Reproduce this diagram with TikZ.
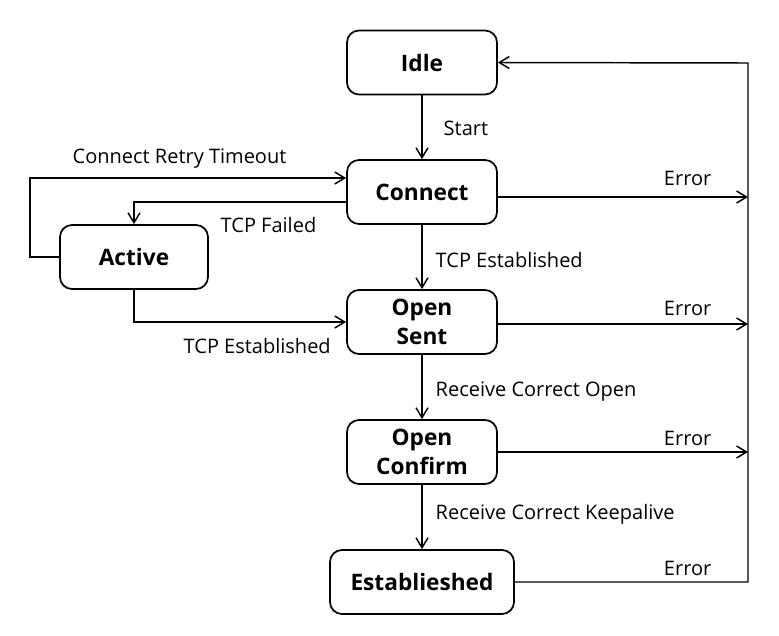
\documentclass[tikz,border=0pt]{standalone}
\usepackage{fontspec}
\setmainfont{Open Sans}
\usetikzlibrary{arrows.meta}

\begin{document}
\begin{tikzpicture}[x=0.75pt,y=-0.75pt,>={Straight Barb[length=7.5pt,width=9pt]},
  line width=1.1pt,
  state/.style={draw,line width=1.3pt,rounded corners=9pt,minimum width=112.5pt,
    minimum height=48pt,inner sep=0pt,align=center,font=\fontsize{17}{21.5}\selectfont\bfseries},
  lbl/.style={font=\fontsize{15}{17}\selectfont,inner sep=0pt}]
  \useasboundingbox (0,0) rectangle (779,636);
  \node[state] (idle) at (422,62.5) {Idle};
  \node[state] (con)  at (422,192)  {Connect};
  \node[state,minimum width=111pt] (act) at (134,257) {Active};
  \node[state] (osent) at (422,322) {Open\\Sent};
  \node[state] (oconf) at (422,452) {Open\\Confirm};
  \node[state,minimum width=138pt] (est) at (422,582) {Establieshed};
  % points on the error rail
  \coordinate (r0) at (748,63);
  \coordinate (r1) at (748,197);
  \coordinate (r2) at (748,324);
  \coordinate (r3) at (748,452);
  \coordinate (lp) at (30,178);
  \coordinate (tf) at (134,202);
  \draw[->] (idle) -- (con);
  \draw[->] (con) -- (osent);
  \draw[->] (osent) -- (oconf);
  \draw[->] (oconf) -- (est);
  \draw[->] (act.west) -| (lp) -- (lp -| con.west);
  \draw[->] (tf -| con.west) -- (tf) -- (act.north);
  \draw[->] (act.south) |- (osent.west);
  \draw[->] (r1 -| con.east) -- (r1);
  \draw[->] (r2 -| osent.east) -- (r2);
  \draw[->] (r3 -| oconf.east) -- (r3);
  \draw[->] (est.east) -| (r0) -- (idle.east);
  \node[lbl,anchor=west] (lstart) at (443,128) {Start};
  \node[lbl,anchor=west] (ltcpe) at (435,260) {TCP Established};
  \node[lbl,anchor=west] (lrco) at (435,392) {Receive Correct Open};
  \node[lbl,anchor=west] (lrck) at (435,514) {Receive Correct Keepalive};
  \node[lbl,anchor=west] (lcrt) at (72,159) {Connect Retry Timeout};
  \node[lbl,anchor=west] (ltcpf) at (220,225) {TCP Failed};
  \node[lbl,anchor=west] (ltcpa) at (183,346) {TCP Established};
  \node[lbl,anchor=east] (le1) at (712,178) {Error};
  \node[lbl,anchor=east] (le2) at (712,308) {Error};
  \node[lbl,anchor=east] (le3) at (712,438) {Error};
  \node[lbl,anchor=east] (le4) at (712,568) {Error};
\end{tikzpicture}
\end{document}
